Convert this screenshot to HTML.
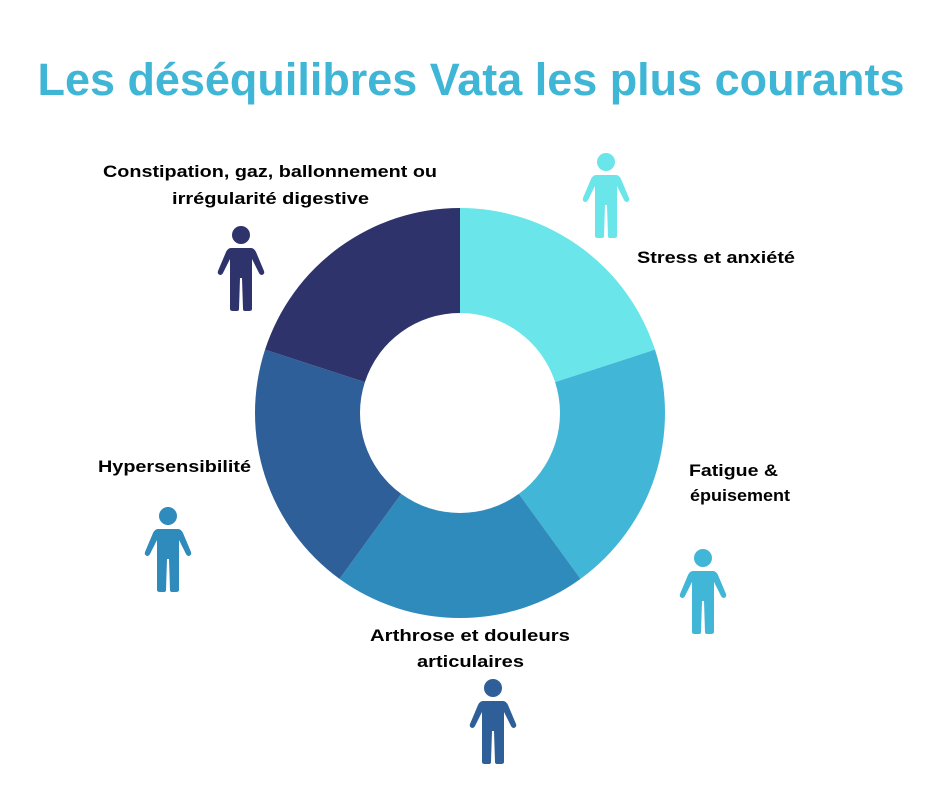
<!DOCTYPE html>
<html><head><meta charset="utf-8"><style>
html,body{margin:0;padding:0;background:#fff}
svg{display:block}
text{font-family:"Liberation Sans",sans-serif;font-weight:bold}
.l{font-size:17px;fill:#000}
</style></head><body>
<svg width="940" height="788" viewBox="0 0 940 788">
<defs>
<g id="p">
<circle cx="0" cy="0" r="9"/>
<path d="M-10,13 Q-13,13 -15,17 L-23,36 Q-24,39 -21,40 Q-19,40 -18,38 L-11,24 L-11,74 Q-11,76 -8,76 L-4,76 Q-2,76 -2,74 L-1,43 L1,43 L2,74 Q2,76 4,76 L8,76 Q11,76 11,74 L11,24 L18,38 Q19,40 21,40 Q24,39 23,36 L15,17 Q13,13 10,13 Z"/>
</g>
</defs>
<text x="471" y="95" text-anchor="middle" font-size="45" fill="#40b6d7" textLength="867" lengthAdjust="spacingAndGlyphs">Les déséquilibres Vata les plus courants</text>

<path d="M460,208 A205,205 0 0 1 654.97,349.66 L555.11,382.1 A100,100 0 0 0 460,313 Z" fill="#6ae5e9"/>
<path d="M654.97,349.66 A205,205 0 0 1 580.5,578.85 L518.78,493.9 A100,100 0 0 0 555.11,382.1 Z" fill="#42b6d6"/>
<path d="M580.5,578.85 A205,205 0 0 1 339.5,578.85 L401.22,493.9 A100,100 0 0 0 518.78,493.9 Z" fill="#2e8bbb"/>
<path d="M339.5,578.85 A205,205 0 0 1 265.03,349.66 L364.89,382.1 A100,100 0 0 0 401.22,493.9 Z" fill="#2e5f98"/>
<path d="M265.03,349.66 A205,205 0 0 1 460,208 L460,313 A100,100 0 0 0 364.89,382.1 Z" fill="#2f336b"/>

<use href="#p" x="606" y="162" fill="#6ae5e9"/>
<use href="#p" x="241" y="235" fill="#2f336b"/>
<use href="#p" x="168" y="516" fill="#2e8bbb"/>
<use href="#p" x="703" y="558" fill="#42b6d6"/>
<use href="#p" x="493" y="688" fill="#2e5f98"/>

<text class="l" x="103" y="177" textLength="334" lengthAdjust="spacingAndGlyphs">Constipation, gaz, ballonnement ou</text>
<text class="l" x="172" y="204" textLength="197" lengthAdjust="spacingAndGlyphs">irrégularité digestive</text>
<text class="l" x="637" y="263" textLength="158" lengthAdjust="spacingAndGlyphs">Stress et anxiété</text>
<text class="l" x="689" y="476" textLength="89" lengthAdjust="spacingAndGlyphs">Fatigue &amp;</text>
<text class="l" x="690" y="501" textLength="100" lengthAdjust="spacingAndGlyphs">épuisement</text>
<text class="l" x="98" y="472" textLength="153" lengthAdjust="spacingAndGlyphs">Hypersensibilité</text>
<text class="l" x="370" y="641" textLength="200" lengthAdjust="spacingAndGlyphs">Arthrose  et douleurs</text>
<text class="l" x="417" y="667" textLength="107" lengthAdjust="spacingAndGlyphs">articulaires</text>
</svg>
</body></html>
